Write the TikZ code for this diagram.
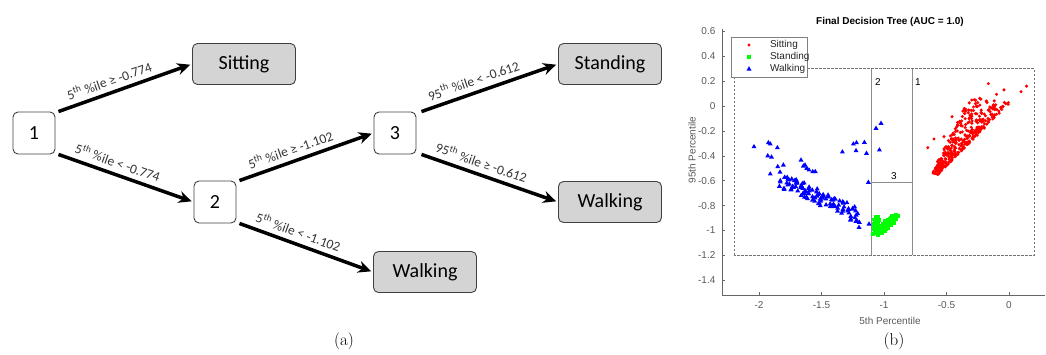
\documentclass[tikz,border=0pt]{standalone}
\usepackage{fontspec}
\newfontfamily\treefont{Carlito}
\newfontfamily\plotfont{Liberation Sans}
\usetikzlibrary{arrows.meta}

\newcommand\sitmark[1]{\fill[red] #1 circle (1.7pt);}
\newcommand\standmark[1]{\fill[green] #1 ++(-1.8pt,-1.8pt) rectangle ++(3.6pt,3.6pt);}
\newcommand\walkmark[1]{\fill[blue] #1 ++(0,2.8pt) -- ++(-2.5pt,-4.3pt) -- ++(5pt,0) -- cycle;}

\begin{document}
\begin{tikzpicture}[x=1pt, y=-1pt,
    split/.style={draw=black!75, line width=0.9pt, rounded corners=5pt, minimum width=42pt, minimum height=42pt, font=\treefont\fontsize{20}{20}\selectfont},
    leaf/.style={split, fill=black!17, minimum width=103pt, minimum height=41pt},
    branch/.style={line width=3.5pt, -{Stealth[length=13pt,width=12pt]}, shorten >=2pt},
    cond/.style={sloped, above=5pt, pos=0.41, inner sep=0pt, text=black!80, font=\treefont\fontsize{13.5}{13.5}\selectfont},
    tick/.style={draw=black!60, line width=0.6pt},
    ticklabel/.style={text=black!65, font=\plotfont\fontsize{10}{10}\selectfont}]
\useasboundingbox (0,0) rectangle (1046,354);

% (a) decision tree
\node[split] (n1) at (34,133) {1};
\node[leaf] (sit) at (244,64) {Sitting};
\node[split] (n2) at (215,202) {2};
\node[split] (n3) at (395,133) {3};
\node[leaf] (stand) at (610,64) {Standing};
\node[leaf] (walkA) at (610,202) {Walking};
\node[leaf] (walkB) at (425,272) {Walking};

\draw[branch] ([xshift=3pt]n1.north east) -- (sit.west) node[cond] {5\textsuperscript{th} \%ile ≥ -0.774};
\draw[branch] ([xshift=3pt]n1.south east) -- (n2.west) node[cond] {5\textsuperscript{th} \%ile < -0.774};
\draw[branch] ([xshift=3pt]n2.north east) -- (n3.west) node[cond] {5\textsuperscript{th} \%ile ≥ -1.102};
\draw[branch] ([xshift=3pt]n2.south east) -- (walkB.west) node[cond] {5\textsuperscript{th} \%ile < -1.102};
\draw[branch] ([xshift=5pt]n3.north east) -- (stand.west) node[cond] {95\textsuperscript{th} \%ile < -0.612};
\draw[branch] ([xshift=5pt]n3.south east) -- (walkA.west) node[cond] {95\textsuperscript{th} \%ile ≥ -0.612};

\node[font=\fontsize{17}{17}\selectfont] (capA) at (344,341) {(a)};

% (b) scatter plot
\node[font=\plotfont\bfseries\fontsize{10}{10}\selectfont] (title) at (890,22) {Final Decision Tree (AUC = 1.0)};
\node[ticklabel, rotate=90] (ylab) at (692,150) {95th Percentile};
\node[ticklabel] (xlab) at (890,321) {5th Percentile};
\node[font=\fontsize{17}{17}\selectfont] (capB) at (894,341) {(b)};

\begin{scope}[shift={(1009,106)}, x=125pt, y=124.5pt]
  % axes
  \draw[tick] (-2.296,0.62) -- (-2.296,-1.518) -- (0.29,-1.518);
  \foreach \v in {-1.4,-1.2,-1,-0.8,-0.6,-0.4,-0.2,0,0.2,0.4,0.6}
    \draw[tick] (-2.296,\v) -- ++(3pt,0) node[ticklabel, pos=0, left=3pt] {\v};
  \foreach \u in {-2,-1.5,-1,-0.5,0}
    \draw[tick] (\u,-1.518) -- ++(0,3pt) node[ticklabel, pos=0, below=3pt] {\u};

  % tree regions
  \draw[black!55, line width=0.6pt, dash pattern=on 2.5pt off 1.5pt] (-2.2,-1.2) rectangle (0.2,0.3);
  \draw[black!45, line width=0.8pt] (-1.102,-1.2) -- (-1.102,0.3);
  \draw[black!45, line width=0.8pt] (-0.774,-1.2) -- (-0.774,0.3);
  \draw[black!45, line width=0.8pt] (-1.102,-0.612) -- (-0.774,-0.612);
  \node[ticklabel, text=black] (r1) at (-0.728,0.19) {1};
  \node[ticklabel, text=black] (r2) at (-1.048,0.19) {2};
  \node[ticklabel, text=black] (r3) at (-0.92,-0.56) {3};

  % Sitting
  \pgfmathsetseed{7}
  \foreach \i in {1,...,360}{
    \pgfmathsetmacro\t{rnd}
    \pgfmathsetmacro\h{rnd^1.4*(0.05+0.27*\t)}
    \pgfmathsetmacro\uu{-0.57+0.58*\t-\h}
    \pgfmathsetmacro\vv{-0.55+0.58*\t+0.15*\h}
    \sitmark{(\uu,\vv)}
  }
  \foreach \p in {(-0.165,0.18),(0.096,0.115),(0.14,0.16),(-0.1,0.094),(-0.04,0.13),(-0.65,-0.335),(-0.6,-0.265),(-0.52,-0.246),(-0.456,-0.086),(-0.565,-0.546),(-0.005,0.027),(-0.38,-0.12),(-0.3,-0.1)}{
    \sitmark{\p}
  }

  % Standing
  \foreach \i in {1,...,150}{
    \pgfmathsetmacro\t{rnd}
    \pgfmathsetmacro\uu{-1.06+0.16*\t+0.028*rand}
    \pgfmathsetmacro\vv{-1.03+0.15*\t+0.022*rand}
    \standmark{(\uu,\vv)}
  }
  \foreach \i in {1,...,30}{
    \pgfmathsetmacro\uu{-1.06+0.022*rand}
    \pgfmathsetmacro\vv{-0.94+0.06*rand}
    \standmark{(\uu,\vv)}
  }

  % Walking
  \foreach \i in {1,...,110}{
    \pgfmathsetmacro\t{rnd}
    \pgfmathsetmacro\uu{-1.82+0.62*\t+0.03*rand}
    \pgfmathsetmacro\vv{-0.59-0.29*\t+0.065*rand}
    \walkmark{(\uu,\vv)}
  }
  \foreach \p in {(-2.04,-0.327),(-1.925,-0.295),(-1.91,-0.305),(-1.853,-0.335),(-1.93,-0.40),(-1.90,-0.41),(-1.85,-0.487),(-1.805,-0.474),(-1.91,-0.546),(-1.664,-0.434),(-1.645,-0.482),(-1.632,-0.474),(-1.618,-0.50),(-1.6,-0.514),(-1.57,-0.527),(-1.55,-0.527),(-1.333,-0.369),(-1.245,-0.305),(-1.22,-0.295),(-1.157,-0.292),(-1.224,-0.359),(-1.14,-0.38),(-1.064,-0.179),(-1.024,-0.139),(-1.037,-0.353),(-1.125,-0.613),(-1.12,-0.948),(-1.2,-0.975),(-1.83,-0.61)}{
    \walkmark{\p}
  }

  % legend
  \draw[black!50, fill=white, line width=0.6pt] (-2.224,0.554) rectangle (-1.616,0.233);
  \sitmark{(-2.08,0.49)}
  \standmark{(-2.08,0.394)}
  \walkmark{(-2.08,0.297)}
  \node[ticklabel, text=black!85, anchor=west] (lsit) at (-1.94,0.49) {Sitting};
  \node[ticklabel, text=black!85, anchor=west] (lstand) at (-1.94,0.394) {Standing};
  \node[ticklabel, text=black!85, anchor=west] (lwalk) at (-1.94,0.297) {Walking};
\end{scope}
\end{tikzpicture}
\end{document}
